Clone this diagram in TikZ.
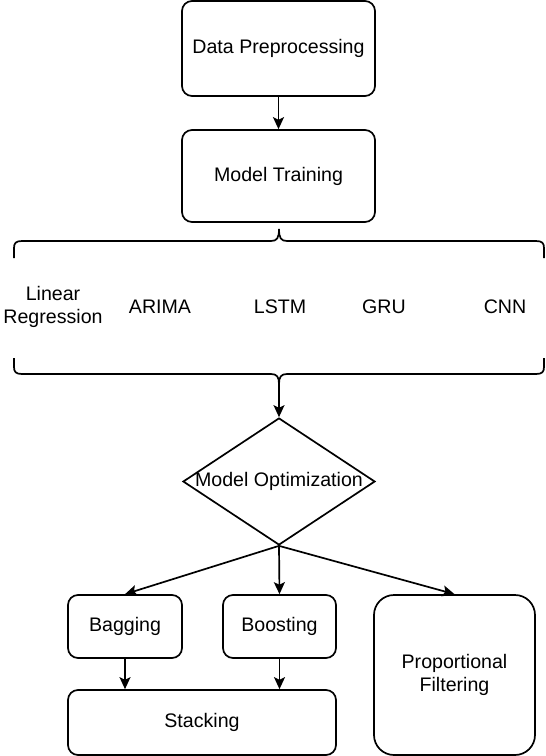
\documentclass[tikz,border=0pt]{standalone}
\usepackage{fontspec}
\setmainfont{Liberation Sans}
\usetikzlibrary{shapes.geometric,arrows.meta}
\begin{document}
\begin{tikzpicture}[x=0.5pt,y=-0.5pt,
  every node/.style={font=\fontsize{9.8}{11.5}\selectfont, text=black},
  box/.style={draw, line width=0.85pt, rounded corners=5pt, inner sep=0pt, align=center},
  lbl/.style={inner sep=0pt, align=center},
  arr/.style={draw, line width=0.85pt, -{Stealth[length=6pt,width=5.5pt,inset=1.3pt]}},
  brace/.style={draw, line width=0.85pt}]
\useasboundingbox (0,0) rectangle (546,756);
\node[box, minimum width=96.5pt, minimum height=47.5pt] (dp) at (278.5,48.5) {Data Preprocessing};
\node[box, minimum width=96.5pt, minimum height=46pt] (mt) at (278.5,176) {Model Training};
% braces
\coordinate (tt) at (279,229);
\coordinate (bt) at (279,384);
\draw[brace] (14,258) -- (14,248) .. controls (14,243) and (16,241) .. (22,241) -- (271,241)
  .. controls (277,241) and (279,238) .. (tt) .. controls (279,238) and (281,241) .. (287,241)
  -- (536,241) .. controls (542,241) and (544,243) .. (544,248) -- (544,258);
\draw[brace] (14,358) -- (14,367) .. controls (14,372) and (16,374) .. (22,374) -- (271,374)
  .. controls (277,374) and (279,377) .. (bt) .. controls (279,377) and (281,374) .. (287,374)
  -- (536,374) .. controls (542,374) and (544,372) .. (544,367) -- (544,358);
\node[lbl] (lr) at (53,307) {Linear\\Regression};
\node[lbl] (ar) at (160,307) {ARIMA};
\node[lbl] (ls) at (280,307) {LSTM};
\node[lbl] (gr) at (384,307) {GRU};
\node[lbl] (cn) at (505,307) {CNN};
\node[draw, diamond, line width=0.85pt, inner sep=0pt, minimum width=96pt, minimum height=63.5pt] (mo) at (279,481.5) {\makebox[0pt]{Model Optimization}};
\node[box, minimum width=57pt, minimum height=31.5pt] (bag) at (125,626.5) {Bagging};
\node[box, minimum width=56.5pt, minimum height=31.5pt] (boo) at (279.5,626.5) {Boosting};
\node[box, minimum width=134pt, minimum height=32.5pt] (stk) at (202,722.5) {Stacking};
\node[box, rounded corners=10pt, minimum width=80.5pt, minimum height=80pt] (pf) at (454.5,675) {Proportional\\Filtering};
\draw[arr] (dp) -- (mt);
\draw[arr] (bt) -- (mo.north);
\draw[arr] (mo.south) -- (bag.north);
\draw[arr] (mo.south) -- (boo.north);
\draw[arr] (mo.south) -- (pf.north);
\draw[arr] (bag.south) -- (bag.south |- stk.north);
\draw[arr] (boo.south) -- (boo.south |- stk.north);
\end{tikzpicture}
\end{document}
